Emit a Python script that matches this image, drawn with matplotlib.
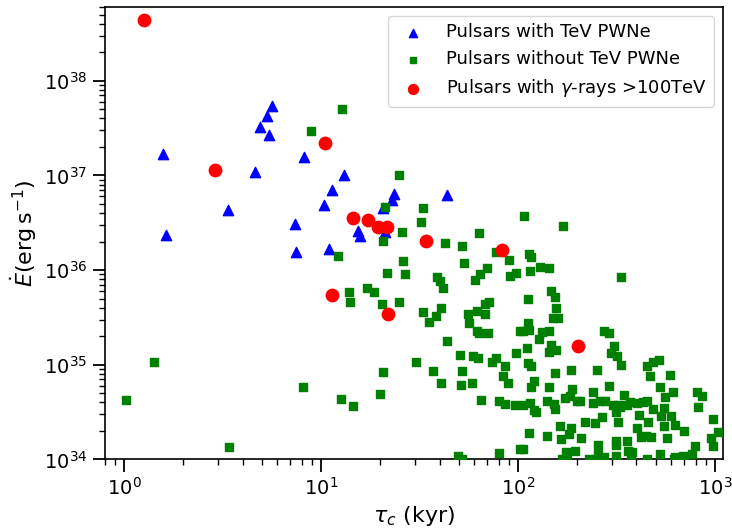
import matplotlib
matplotlib.use("Agg")
import matplotlib.pyplot as plt

# Pulsars with TeV PWNe (blue triangles): (characteristic age kyr, spin-down power erg/s)
tev_points = [
    (1.58, 1.69e37), (1.63, 2.34e36), (3.37, 4.35e36), (4.64, 1.08e37), (4.90, 3.28e37),
    (5.34, 4.22e37), (5.42, 2.64e37), (5.64, 5.42e37), (8.2, 1.58e37), (7.38, 3.08e36),
    (7.47, 1.57e36), (10.4, 4.92e36), (11.4, 6.95e36), (13.1, 1.02e37), (11.0, 1.68e36),
    (15.5, 2.57e36), (15.8, 2.28e36), (20.7, 4.54e36), (21.1, 2.54e36), (23.0, 5.55e36),
    (23.6, 6.42e36), (43.5, 6.15e36),
]

# Pulsars without TeV PWNe (green squares)
notev_points = [
    (1.02, 4.25e34), (1.42, 1.07e35), (3.41, 1.36e34), (8.1, 5.82e34), (8.9, 2.95e37),
    (12.8, 5.04e37), (24.8, 1.0e37), (21.1, 4.65e36), (32.9, 4.54e36), (32.1, 3.23e36),
    (25.7, 2.51e36), (20.6, 2.02e36), (42.5, 1.94e36), (51.8, 1.79e36), (63.4, 2.49e36),
    (77.1, 1.56e36), (12.2, 1.40e36), (26.2, 1.24e36), (53.4, 1.20e36), (21.7, 9.23e35),
    (26.7, 9.0e35), (38.7, 8.52e35), (40.2, 7.66e35), (41.5, 6.53e35), (60.5, 7.8e35),
    (64.1, 9.0e35), (69.8, 1.06e36), (13.8, 5.87e35), (17.1, 6.53e35), (18.6, 5.87e35),
    (14.0, 4.6e35), (20.5, 4.43e35), (24.9, 4.57e35), (32.8, 3.65e35), (35.5, 2.86e35),
    (38.2, 3.28e35), (40.5, 3.98e35), (55.5, 3.47e35), (56.4, 2.75e35), (62.1, 3.7e35),
    (68.0, 4.43e35), (71.3, 4.6e35), (68.0, 3.42e35), (62.1, 2.28e35), (63.4, 2.16e35),
    (70.2, 2.15e35), (43.6, 1.78e35), (50.8, 1.27e35), (59.3, 1.23e35), (62.9, 1.17e35),
    (30.4, 1.08e35), (52.2, 8.5e34), (37.0, 8.5e34), (40.8, 6.47e34), (51.5, 6.16e34),
    (58.6, 6.37e34), (20.7, 8.44e34), (19.9, 4.92e34), (12.7, 4.39e34), (14.5, 3.65e34),
    (64.9, 4.28e34), (73.5, 1.06e35), (77.1, 1.18e35), (85.9, 9.76e34), (83.6, 7.55e34),
    (89.3, 6.42e34), (97.7, 1.32e35), (80.4, 4.12e34), (85.9, 3.86e34), (96.6, 3.79e34),
    (49.8, 1.09e34), (80.4, 1.18e34), (102, 1.3e34), (102, 2.28e35), (107, 3.77e36),
    (169, 2.9e36), (90, 1.27e36), (114, 1.49e36), (117, 1.38e36), (91, 8.65e35),
    (97.3, 9.23e35), (115, 9.76e35), (129, 1.09e36), (143, 1.06e36), (332, 8.38e35),
    (113, 5.0e35), (148, 5.97e35), (155, 5.2e35), (157, 3.95e35), (151, 3.1e35),
    (160, 3.1e35), (106, 2.28e35), (113, 2.75e35), (114, 2.34e35), (128, 1.87e35),
    (133, 2.22e35), (143, 2.28e35), (147, 1.62e35), (157, 1.44e35), (143, 1.37e35),
    (111, 1.49e35), (112, 1.04e35), (117, 9.76e34), (154, 8.18e34), (186, 8.8e34),
    (253, 8.8e34), (273, 2.25e35), (290, 2.15e35), (307, 1.58e35), (298, 1.32e35),
    (317, 1.24e35), (332, 9.93e34), (450, 9.76e34), (484, 1.06e35), (520, 1.13e35),
    (466, 7.66e34), (591, 7.8e34), (525, 5.87e34), (610, 5.12e34), (561, 4.6e34),
    (807, 5.12e34), (858, 4.72e34), (820, 3.56e34), (980, 2.68e34), (1040, 1.94e34),
    (960, 1.68e34), (980, 1.4e34), (790, 1.4e34), (770, 1.15e34), (690, 1.1e34),
    (106, 3.77e34), (115, 3.95e34), (121, 3.36e34), (140, 4.18e34), (154, 3.42e34),
    (173, 4.43e34), (189, 5.55e34), (199, 4.18e34), (241, 5.12e34), (241, 3.95e34),
    (291, 5.93e34), (345, 4.8e34), (277, 4.18e34), (322, 3.79e34), (356, 3.79e34),
    (401, 3.95e34), (450, 4.1e34), (315, 3.15e34), (484, 3.42e34), (555, 3.48e34),
    (535, 2.9e34), (602, 2.87e34), (555, 2.28e34), (696, 1.99e34), (413, 2.95e34),
    (458, 2.51e34), (401, 2.14e34), (424, 1.72e34), (474, 1.74e34), (356, 1.58e34),
    (362, 1.24e34), (313, 1.55e34), (256, 1.43e34), (256, 1.15e34), (315, 1.1e34),
    (219, 2.48e34), (245, 2.44e34), (266, 2.79e34), (209, 1.68e34), (163, 2.28e34),
    (166, 1.65e34), (187, 2.14e34), (181, 1.86e34), (194, 1.24e34), (176, 1.2e34),
    (140, 1.76e34), (114, 1.91e34), (106, 1.3e34), (525, 1.15e34), (120, 6.79e34),
    (117, 5.82e34), (143, 5.82e34), (52, 1.02e34), (168, 1.02e34), (178, 1.05e34),
    (230, 1.02e34), (250, 1.02e34), (275, 1.05e34), (375, 1.02e34), (450, 1.02e34),
    (620, 1.02e34), (700, 1.02e34),
    (206, 4.18e34), (261, 4.18e34), (305, 3.77e34), (330, 3.56e34), (370, 4.02e34),
    (433, 4.02e34), (323, 2.48e34), (627, 2.34e34), (314, 1.43e34), (378, 1.2e34),
    (446, 1.79e34), (569, 1.68e34), (627, 1.06e34), (123, 3.2e34), (152, 3.86e34),
    (184, 4.72e34),
]

# Pulsars with gamma-rays > 100 TeV (red circles)
uhe_points = [
    (1.26, 4.4e38), (2.90, 1.15e37), (10.5, 2.22e37), (14.5, 3.59e36), (17.3, 3.42e36),
    (19.5, 2.86e36), (21.6, 2.85e36), (34.0, 2.04e36), (11.4, 5.42e35), (21.8, 3.47e35),
    (82.6, 1.61e36), (201, 1.57e35),
]

labels = ["Pulsars with TeV PWNe", "Pulsars without TeV PWNe",
          r"Pulsars with $\gamma$-rays >100TeV"]

tev_tau, tev_edot = zip(*tev_points)
notev_tau, notev_edot = zip(*notev_points)
uhe_tau, uhe_edot = zip(*uhe_points)

fig = plt.figure(figsize=(7.32, 5.31), dpi=100)
ax = fig.add_axes([0.1434, 0.1347, 0.8443, 0.8521])

ax.scatter(tev_tau, tev_edot, marker="^", s=55, color="blue", label=labels[0], zorder=2)
ax.scatter(notev_tau, notev_edot, marker="s", s=36, color="green", label=labels[1], zorder=3)
ax.scatter(uhe_tau, uhe_edot, marker="o", s=80, color="red", label=labels[2], zorder=4)

ax.set_xscale("log")
ax.set_yscale("log")
ax.set_xlim(0.8, 1100)
ax.set_ylim(1e34, 6e38)

ax.tick_params(which="major", length=9, width=1.3, labelsize=14)
ax.tick_params(which="minor", length=4.5, width=1.0)
for sp in ax.spines.values():
    sp.set_linewidth(1.2)

ax.set_xlabel(r"$\tau_c$ (kyr)", fontsize=16)
ax.set_ylabel(r"$\dot{E}(\mathrm{erg\,s^{-1}})$", fontsize=16)

ax.legend(loc="upper right", fontsize=13, markerscale=0.8)

fig.savefig("out.png", dpi=100)
